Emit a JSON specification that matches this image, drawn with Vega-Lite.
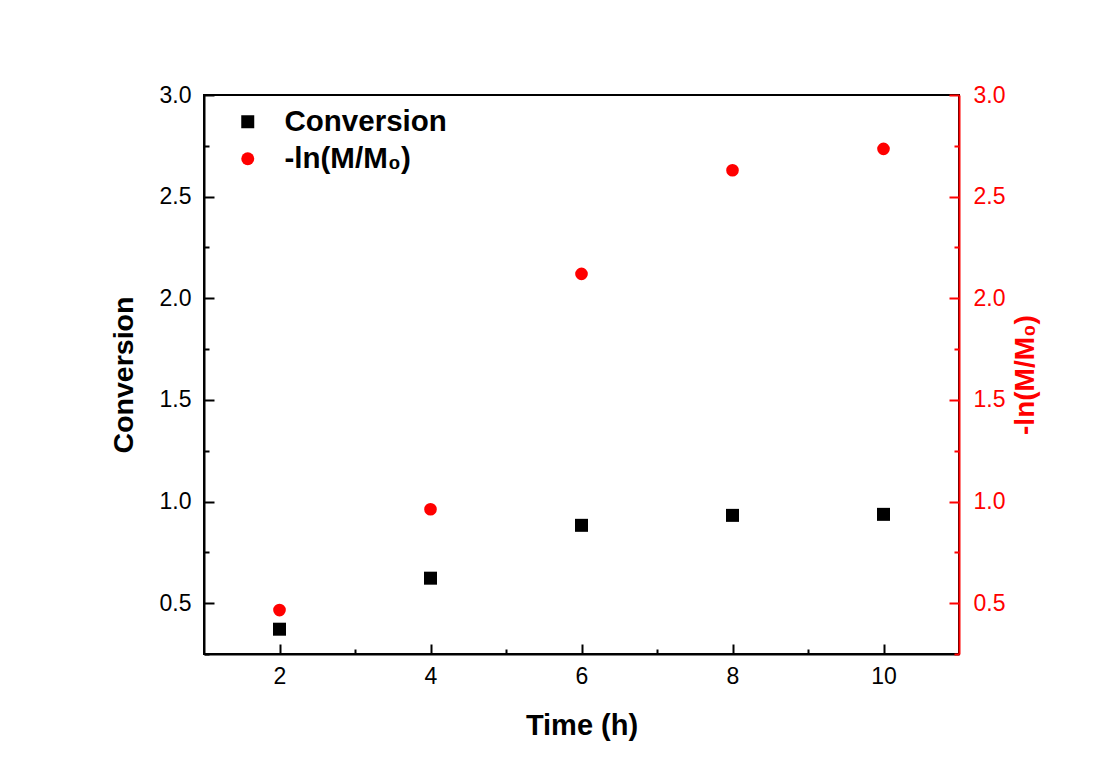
{
  "$schema": "https://vega.github.io/schema/vega-lite/v6.json",
  "width": 755,
  "height": 559,
  "autosize": {"type": "none"},
  "padding": {"left": 204, "top": 95, "right": 143, "bottom": 122},
  "background": "white",
  "config": {
    "font": "Liberation Sans",
    "view": {"stroke": "black", "strokeWidth": 2},
    "axis": {"grid": false, "domainWidth": 2, "tickWidth": 2, "labelFontSize": 23, "titleFontSize": 28.5, "titleFontWeight": "bold", "labelFont": "Liberation Sans", "titleFont": "Liberation Sans"},
    "legend": {"orient": "none", "legendX": 29, "legendY": 12, "title": null, "labelFontSize": 29.5, "labelFontWeight": "bold", "symbolSize": 169, "labelOffset": 22, "rowPadding": 6, "symbolStrokeWidth": 0, "labelFont": "Liberation Sans", "labelLimit": 500}
  },
  "data": {
    "values": [
      {"time": 2, "value": 0.372, "series": "Conversion"},
      {"time": 4, "value": 0.623, "series": "Conversion"},
      {"time": 6, "value": 0.883, "series": "Conversion"},
      {"time": 8, "value": 0.932, "series": "Conversion"},
      {"time": 10, "value": 0.937, "series": "Conversion"},
      {"time": 2, "value": 0.466, "series": "-ln(M/M₀)"},
      {"time": 4, "value": 0.962, "series": "-ln(M/M₀)"},
      {"time": 6, "value": 2.12, "series": "-ln(M/M₀)"},
      {"time": 8, "value": 2.63, "series": "-ln(M/M₀)"},
      {"time": 10, "value": 2.735, "series": "-ln(M/M₀)"}
    ]
  },
  "encoding": {
    "x": {
      "field": "time", "type": "quantitative",
      "scale": {"domain": [1, 11], "nice": false, "zero": false},
      "axis": {
        "title": "Time (h)", "values": [2, 3, 4, 5, 6, 7, 8, 9, 10],
        "labelExpr": "datum.value % 2 === 0 ? datum.label : ''",
        "tickSize": {"condition": {"test": "datum.value % 2 !== 0", "value": -5}, "value": -10},
        "labelPadding": 21, "titlePadding": 23, "titleFontSize": 29,
        "domainColor": "black", "tickColor": "black", "labelColor": "black", "titleColor": "black"
      }
    },
    "color": {"field": "series", "type": "nominal", "scale": {"domain": ["Conversion", "-ln(M/M₀)"], "range": ["black", "red"]},
      "legend": {"encoding": {"labels": {"update": {"fill": {"signal": "datum.value === 'Conversion' ? 'black' : 'red'"}}}}}},
    "shape": {"field": "series", "type": "nominal", "scale": {"domain": ["Conversion", "-ln(M/M₀)"], "range": ["square", "circle"]},
      "legend": {"encoding": {"labels": {"update": {"fill": {"signal": "datum.value === 'Conversion' ? 'black' : 'red'"}}}}}}
  },
  "layer": [
    {
      "transform": [{"filter": "datum.series === 'Conversion'"}],
      "mark": {"type": "point", "filled": true, "size": 169, "opacity": 1},
      "encoding": {
        "y": {
          "field": "value", "type": "quantitative",
          "scale": {"domain": [0.25, 3.0], "nice": false, "zero": false},
          "axis": {
            "orient": "left", "title": "Conversion",
            "values": [0.25, 0.5, 0.75, 1.0, 1.25, 1.5, 1.75, 2.0, 2.25, 2.5, 2.75, 3.0],
            "labelExpr": "datum.value % 0.5 === 0 ? format(datum.value, '.1f') : ''",
            "tickSize": {"condition": {"test": "datum.value % 0.5 !== 0", "value": -5}, "value": -10},
            "labelPadding": 23, "titlePadding": 21,
            "domainColor": "black", "tickColor": "black", "labelColor": "black", "titleColor": "black"
          }
        }
      }
    },
    {
      "transform": [{"filter": "datum.series !== 'Conversion'"}],
      "mark": {"type": "point", "filled": true, "size": 160, "opacity": 1},
      "encoding": {
        "y": {
          "field": "value", "type": "quantitative",
          "scale": {"domain": [0.25, 3.0], "nice": false, "zero": false},
          "axis": {
            "orient": "right", "title": "-ln(M/M₀)", "titleAngle": 270, "titleBaseline": "top",
            "values": [0.25, 0.5, 0.75, 1.0, 1.25, 1.5, 1.75, 2.0, 2.25, 2.5, 2.75, 3.0],
            "labelExpr": "datum.value % 0.5 === 0 ? format(datum.value, '.1f') : ''",
            "tickSize": {"condition": {"test": "datum.value % 0.5 !== 0", "value": -5}, "value": -10},
            "labelPadding": 24, "titlePadding": 7, "titleFontSize": 28,
            "domainColor": "red", "tickColor": "red", "labelColor": "red", "titleColor": "red"
          }
        }
      }
    }
  ],
  "resolve": {"scale": {"y": "independent"}}
}
